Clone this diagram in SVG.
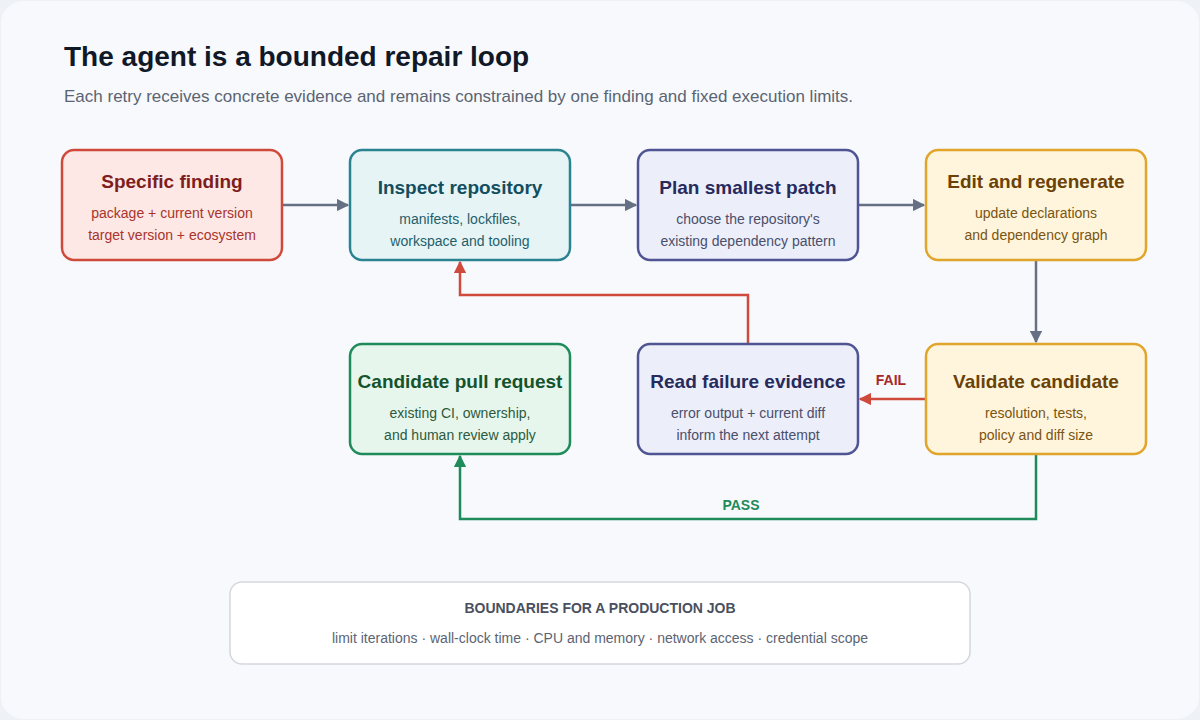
<svg xmlns="http://www.w3.org/2000/svg" width="1200" height="720" viewBox="0 0 1200 720">
<style>
text{font-family:"Liberation Sans",Arial,sans-serif}
.t{font-size:19px;font-weight:bold;text-anchor:middle}
.s{font-size:14px;text-anchor:middle}
.box{stroke-width:2.5}
.c{fill:none;stroke-width:2.5}
</style>
<defs>
<marker id="ag" viewBox="0 0 10 10" refX="9" refY="5" markerWidth="5" markerHeight="5" orient="auto"><path d="M0,0L10,5L0,10z" fill="#667085"/></marker>
<marker id="ar" viewBox="0 0 10 10" refX="9" refY="5" markerWidth="5" markerHeight="5" orient="auto"><path d="M0,0L10,5L0,10z" fill="#d04a3c"/></marker>
<marker id="agr" viewBox="0 0 10 10" refX="9" refY="5" markerWidth="5" markerHeight="5" orient="auto"><path d="M0,0L10,5L0,10z" fill="#1f8a5a"/></marker>
</defs>
<rect width="1200" height="720" fill="#eef1f5"/>
<rect x="1" y="1" width="1198" height="718" rx="22" fill="#f7f9fc"/>
<text x="64" y="66" font-size="28" font-weight="bold" fill="#111827">The agent is a bounded repair loop</text>
<text x="64" y="102" font-size="17" fill="#5b6473">Each retry receives concrete evidence and remains constrained by one finding and fixed execution limits.</text>
<g id="connectors">
<path class="c" stroke="#667085" d="M283,205H348" marker-end="url(#ag)"/>
<path class="c" stroke="#667085" d="M571,205H636" marker-end="url(#ag)"/>
<path class="c" stroke="#667085" d="M859,205H924" marker-end="url(#ag)"/>
<path class="c" stroke="#667085" d="M1036,261V342" marker-end="url(#ag)"/>
<path class="c" stroke="#d04a3c" d="M925,399H860" marker-end="url(#ar)"/>
<path class="c" stroke="#d04a3c" d="M748,343V295H460V262" marker-end="url(#ar)"/>
<path class="c" stroke="#1f8a5a" d="M1036,455V519H460V456" marker-end="url(#agr)"/>
<text x="891" y="385" font-size="14" font-weight="bold" fill="#a8282a" text-anchor="middle">FAIL</text>
<text x="741" y="510" font-size="14" font-weight="bold" fill="#1f8a5a" text-anchor="middle">PASS</text>
</g>
<g id="finding"><rect class="box" x="62" y="150" width="220" height="110" rx="12" fill="#fde8e6" stroke="#d04a3c"/>
<text class="t" x="172" y="188" fill="#7f1d1d">Specific finding</text>
<text class="s" x="172" y="218" fill="#a8342c">package + current version</text>
<text class="s" x="172" y="240" fill="#a8342c">target version + ecosystem</text></g>
<g id="inspect"><rect class="box" x="350" y="150" width="220" height="110" rx="12" fill="#e6f4f6" stroke="#2a8391"/>
<text class="t" x="460" y="194" fill="#134e5e">Inspect repository</text>
<text class="s" x="460" y="224" fill="#1f5f6b">manifests, lockfiles,</text>
<text class="s" x="460" y="246" fill="#1f5f6b">workspace and tooling</text></g>
<g id="plan"><rect class="box" x="638" y="150" width="220" height="110" rx="12" fill="#eceefa" stroke="#4f5592"/>
<text class="t" x="748" y="194" fill="#272b5c">Plan smallest patch</text>
<text class="s" x="748" y="224" fill="#4a4f6a">choose the repository's</text>
<text class="s" x="748" y="246" fill="#4a4f6a">existing dependency pattern</text></g>
<g id="edit"><rect class="box" x="926" y="150" width="220" height="110" rx="12" fill="#fff5dc" stroke="#e0a52a"/>
<text class="t" x="1036" y="188" fill="#6b4206">Edit and regenerate</text>
<text class="s" x="1036" y="218" fill="#7a5410">update declarations</text>
<text class="s" x="1036" y="240" fill="#7a5410">and dependency graph</text></g>
<g id="candidate"><rect class="box" x="350" y="344" width="220" height="110" rx="12" fill="#e6f6ec" stroke="#1f8a5a"/>
<text class="t" x="460" y="388" fill="#14532d">Candidate pull request</text>
<text class="s" x="460" y="418" fill="#2d5a3d">existing CI, ownership,</text>
<text class="s" x="460" y="440" fill="#2d5a3d">and human review apply</text></g>
<g id="read"><rect class="box" x="638" y="344" width="220" height="110" rx="12" fill="#eceefa" stroke="#4f5592"/>
<text class="t" x="748" y="388" fill="#272b5c">Read failure evidence</text>
<text class="s" x="748" y="418" fill="#4a4f6a">error output + current diff</text>
<text class="s" x="748" y="440" fill="#4a4f6a">inform the next attempt</text></g>
<g id="validate"><rect class="box" x="926" y="344" width="220" height="110" rx="12" fill="#fff5dc" stroke="#e0a52a"/>
<text class="t" x="1036" y="388" fill="#6b4206">Validate candidate</text>
<text class="s" x="1036" y="418" fill="#7a5410">resolution, tests,</text>
<text class="s" x="1036" y="440" fill="#7a5410">policy and diff size</text></g>
<g id="boundaries"><rect x="230" y="582" width="740" height="82" rx="12" fill="#ffffff" stroke="#d4d8de" stroke-width="1.5"/>
<text x="600" y="613" font-size="14" font-weight="bold" fill="#4a5060" text-anchor="middle">BOUNDARIES FOR A PRODUCTION JOB</text>
<text x="600" y="643" font-size="14" fill="#5b6473" text-anchor="middle">limit iterations · wall-clock time · CPU and memory · network access · credential scope</text></g>
</svg>
